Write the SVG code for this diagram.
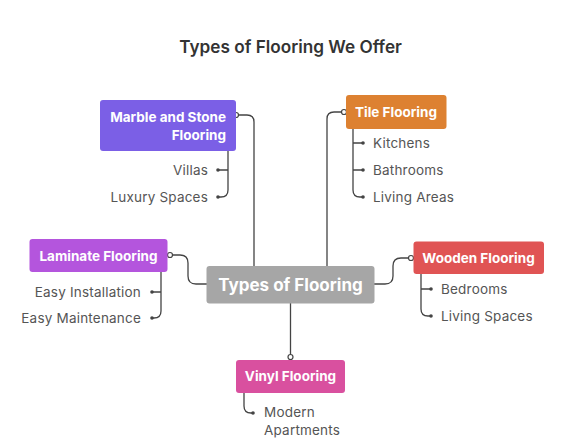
<svg xmlns="http://www.w3.org/2000/svg" width="564" height="442" viewBox="0 0 564 442">
<style>
.title{font-family:Inter,"Liberation Sans",sans-serif;font-size:17.2px;font-weight:600;fill:#333}
.nt{font-family:Inter,"Liberation Sans",sans-serif;font-size:13.5px;font-weight:700;fill:#fff}
.ct{font-family:Inter,"Liberation Sans",sans-serif;font-size:17px;font-weight:700;fill:#fff}
.lt{font-family:Inter,"Liberation Sans",sans-serif;font-size:13.5px;letter-spacing:0.2px;fill:#555}
.ln{fill:none;stroke:#444;stroke-width:1.3}
.hc{fill:#fff;stroke:#444;stroke-width:1.2}
.dot{fill:#444}
</style>
<rect width="564" height="442" fill="#fff"/>
<text class="title" x="290.5" y="52.5" text-anchor="middle">Types of Flooring We Offer</text>
<g id="connectors">
<path class="ln" d="M238.5,115 H247 Q254,115 254,122 V266"/>
<circle class="hc" cx="236" cy="115" r="2.5"/>
<path class="ln" d="M341.5,112 H334 Q327,112 327,119 V266"/>
<circle class="hc" cx="344" cy="112" r="2.5"/>
<path class="ln" d="M172.5,255 H180 Q188,255 188,263 V276 Q188,284 196,284 H207"/>
<circle class="hc" cx="170" cy="255" r="2.5"/>
<path class="ln" d="M374,284 H385 Q393,284 393,276 V266 Q393,258 401,258 H408.5"/>
<circle class="hc" cx="411" cy="258" r="2.5"/>
<path class="ln" d="M290.5,303 V354.5"/>
<circle class="hc" cx="290.5" cy="357" r="2.5"/>
<path class="ln" d="M228,151 V190 Q228,197 221,197 H218 M228,170 H218"/>
<circle class="dot" cx="218" cy="170" r="1.8"/><circle class="dot" cx="218" cy="197" r="1.8"/>
<path class="ln" d="M353,129 V190 Q353,197 360,197 H363 M353,143 H363 M353,170 H363"/>
<circle class="dot" cx="363" cy="143" r="1.8"/><circle class="dot" cx="363" cy="170" r="1.8"/><circle class="dot" cx="363" cy="197" r="1.8"/>
<path class="ln" d="M161,272 V311 Q161,318 154,318 H152 M161,292 H152"/>
<circle class="dot" cx="152" cy="292" r="1.8"/><circle class="dot" cx="152" cy="318" r="1.8"/>
<path class="ln" d="M421,274 V309 Q421,316 428,316 H431 M421,289 H431"/>
<circle class="dot" cx="431" cy="289" r="1.8"/><circle class="dot" cx="431" cy="316" r="1.8"/>
<path class="ln" d="M244,393 V406 Q244,413 251,413 H253"/>
<circle class="dot" cx="253" cy="413" r="1.8"/>
</g>
<g id="center">
<rect x="206.5" y="266" width="168" height="37.5" rx="3" fill="#a6a6a6"/>
<text class="ct" x="290.5" y="291" text-anchor="middle">Types of Flooring</text>
</g>
<g id="marble">
<rect x="100" y="100" width="136" height="51" rx="3" fill="#7b5fe6"/>
<text class="nt" x="226" y="122" text-anchor="end">Marble and Stone</text>
<text class="nt" x="226" y="140" text-anchor="end">Flooring</text>
<text class="lt" x="208" y="175" text-anchor="end">Villas</text>
<text class="lt" x="208" y="202" text-anchor="end">Luxury Spaces</text>
</g>
<g id="tile">
<rect x="346" y="95" width="100.5" height="34" rx="3" fill="#dd8131"/>
<text class="nt" x="396" y="117" text-anchor="middle">Tile Flooring</text>
<text class="lt" x="373" y="148">Kitchens</text>
<text class="lt" x="373" y="175">Bathrooms</text>
<text class="lt" x="373" y="202">Living Areas</text>
</g>
<g id="laminate">
<rect x="29.5" y="239" width="138" height="33" rx="3" fill="#b455dd"/>
<text class="nt" x="98.5" y="260.5" text-anchor="middle">Laminate Flooring</text>
<text class="lt" x="141" y="297" text-anchor="end">Easy Installation</text>
<text class="lt" x="141" y="323" text-anchor="end">Easy Maintenance</text>
</g>
<g id="wooden">
<rect x="413.5" y="241.5" width="130.5" height="32.5" rx="3" fill="#e05454"/>
<text class="nt" x="478.5" y="263" text-anchor="middle">Wooden Flooring</text>
<text class="lt" x="441" y="294">Bedrooms</text>
<text class="lt" x="441" y="321">Living Spaces</text>
</g>
<g id="vinyl">
<rect x="236" y="360" width="109" height="33" rx="3" fill="#d9509f"/>
<text class="nt" x="290.5" y="381" text-anchor="middle">Vinyl Flooring</text>
<text class="lt" x="264" y="417">Modern</text>
<text class="lt" x="264" y="435">Apartments</text>
</g>
</svg>
